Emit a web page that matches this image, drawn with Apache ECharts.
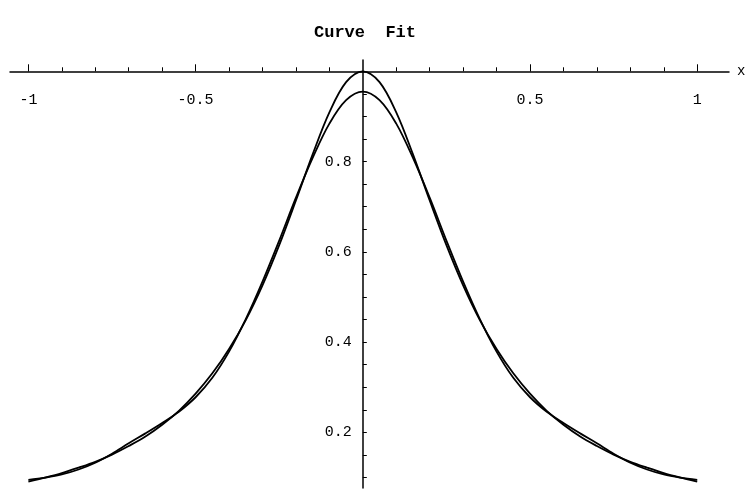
<!DOCTYPE html>
<html>
<head>
<meta charset="utf-8">
<script src="https://cdn.jsdelivr.net/npm/echarts@6/dist/echarts.min.js"></script>
<style>
  html, body { margin: 0; padding: 0; background: #fff; }
  #chart { width: 748px; height: 490px; }
</style>
</head>
<body>
<div id="chart"></div>
<script>
// Sample points along x
const xs = [-1.00, -0.95, -0.90, -0.85, -0.80, -0.75, -0.70, -0.65, -0.60, -0.55,
            -0.50, -0.45, -0.40, -0.35, -0.30, -0.25, -0.20, -0.15, -0.10, -0.05,
             0.00,  0.05,  0.10,  0.15,  0.20,  0.25,  0.30,  0.35,  0.40,  0.45,
             0.50,  0.55,  0.60,  0.65,  0.70,  0.75,  0.80,  0.85,  0.90,  0.95, 1.00];

// Original curve
const dataY = [0.091, 0.100, 0.110, 0.122, 0.135, 0.151, 0.170, 0.191, 0.217, 0.248,
               0.286, 0.331, 0.385, 0.449, 0.526, 0.615, 0.714, 0.816, 0.909, 0.976,
               1.000, 0.976, 0.909, 0.816, 0.714, 0.615, 0.526, 0.449, 0.385, 0.331,
               0.286, 0.248, 0.217, 0.191, 0.170, 0.151, 0.135, 0.122, 0.110, 0.100, 0.091];

// Fitted curve
const fitY = [0.095, 0.100, 0.107, 0.118, 0.133, 0.153, 0.176, 0.198, 0.221, 0.246,
              0.278, 0.321, 0.379, 0.451, 0.534, 0.625, 0.720, 0.808, 0.884, 0.936,
              0.955, 0.936, 0.884, 0.808, 0.720, 0.625, 0.534, 0.451, 0.379, 0.321,
              0.278, 0.246, 0.221, 0.198, 0.176, 0.153, 0.133, 0.118, 0.107, 0.100, 0.095];

// Axis ticks and labels
const xMajorTicks = [-1, -0.5, 0.5, 1];
const xMinorTicks = [-1, -0.9, -0.8, -0.7, -0.6, -0.5, -0.4, -0.3, -0.2, -0.1,
                     0.1, 0.2, 0.3, 0.4, 0.5, 0.6, 0.7, 0.8, 0.9, 1];
const yLabels = [0.2, 0.4, 0.6, 0.8];
const yTicks = [0.1, 0.15, 0.2, 0.25, 0.3, 0.35, 0.4, 0.45, 0.5, 0.55, 0.6,
                0.65, 0.7, 0.75, 0.8, 0.85, 0.9, 0.95];

const X_MIN = -1.055, X_MAX = 1.095;
const Y_MIN = 0.077, Y_MAX = 1.025;
const GRID = { left: 10, top: 60, width: 719, height: 428 };
// the horizontal axis crosses the vertical one at y = 1, the vertical one sits at x = 0
const xAxisOffset = -(1 - Y_MIN) / (Y_MAX - Y_MIN) * GRID.height;
const yAxisOffset = -(0 - X_MIN) / (X_MAX - X_MIN) * GRID.width;

const FONT = 'Liberation Mono';
const fmt = v => String(v);

const chart = echarts.init(document.getElementById('chart'), null, { renderer: 'canvas' });

const baseX = {
  type: 'value', min: X_MIN, max: X_MAX, position: 'bottom', offset: xAxisOffset,
  splitLine: { show: false },
  axisLine: { onZero: false }
};

chart.setOption({
  animation: false,
  backgroundColor: '#fff',
  title: {
    text: 'Curve  Fit', left: 360, top: 19, textAlign: 'center',
    textStyle: { fontFamily: FONT, fontSize: 17, fontWeight: 'bold', color: '#000' }
  },
  grid: Object.assign({ containLabel: false, outerBoundsMode: 'none', show: false }, GRID),
  xAxis: [
    Object.assign({}, baseX, {
      name: 'x', nameLocation: 'end', nameGap: 8,
      nameTextStyle: { fontFamily: FONT, fontSize: 14, color: '#000', verticalAlign: 'middle' },
      axisLine: { onZero: false, lineStyle: { color: '#000', width: 1.5 } },
      axisTick: { show: true, inside: true, length: 4, customValues: xMinorTicks,
                  lineStyle: { color: '#000', width: 1 } },
      axisLabel: { show: true, customValues: xMajorTicks, formatter: fmt, margin: 21,
                   fontFamily: FONT, fontSize: 15, color: '#000' }
    }),
    Object.assign({}, baseX, {
      axisLine: { show: false, onZero: false },
      axisTick: { show: true, inside: true, length: 7, customValues: xMajorTicks,
                  lineStyle: { color: '#000', width: 1 } },
      axisLabel: { show: false }
    })
  ],
  yAxis: {
    type: 'value', min: Y_MIN, max: Y_MAX, position: 'left', offset: yAxisOffset,
    splitLine: { show: false },
    axisLine: { onZero: false, lineStyle: { color: '#000', width: 1.5 } },
    axisTick: { show: true, inside: true, length: 4, customValues: yTicks,
                lineStyle: { color: '#000', width: 1 } },
    axisLabel: { show: true, customValues: yLabels, formatter: fmt, margin: 11,
                 fontFamily: FONT, fontSize: 15, color: '#000' }
  },
  series: [
    {
      type: 'line', xAxisIndex: 0, yAxisIndex: 0, showSymbol: false, smooth: 0.35,
      lineStyle: { color: '#000', width: 1.8 },
      data: xs.map((x, i) => [x, dataY[i]])
    },
    {
      type: 'line', xAxisIndex: 0, yAxisIndex: 0, showSymbol: false, smooth: 0.35,
      lineStyle: { color: '#000', width: 1.8 },
      data: xs.map((x, i) => [x, fitY[i]])
    }
  ]
});
</script>
</body>
</html>
